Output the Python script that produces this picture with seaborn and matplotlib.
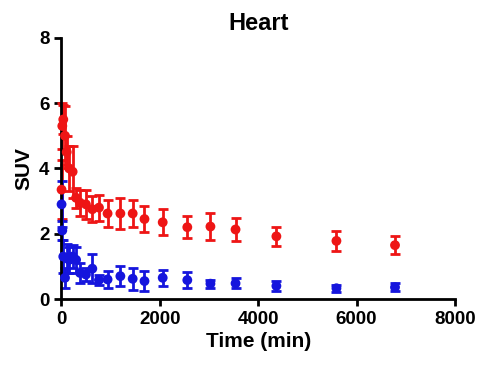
import matplotlib
matplotlib.use("Agg")
import matplotlib.pyplot as plt
import seaborn as sns
import pandas as pd

# time points (min)
time = [5, 20, 40, 75, 110, 160, 230, 300, 380, 500, 630, 765, 940,
        1200, 1450, 1690, 2060, 2560, 3030, 3540, 4370, 5590, 6780]

red_mean = [3.35, 5.3, 5.5, 5.0, 4.5, 4.0, 3.9, 3.1, 2.95, 2.9, 2.75, 2.8, 2.62,
            2.62, 2.62, 2.45, 2.35, 2.2, 2.22, 2.13, 1.92, 1.78, 1.65]
red_err = [0.9, 0.7, 0.45, 0.9, 0.5, 0.7, 0.8, 0.3, 0.4, 0.45, 0.4, 0.4, 0.4,
           0.48, 0.42, 0.4, 0.4, 0.33, 0.42, 0.35, 0.3, 0.3, 0.27]

blue_mean = [2.9, 2.1, 1.3, 0.65, 1.25, 1.2, 1.3, 1.2, 0.8, 0.75, 0.93, 0.58, 0.6,
             0.7, 0.62, 0.55, 0.65, 0.58, 0.47, 0.48, 0.4, 0.33, 0.36]
blue_err = [0.7, 0.3, 0.5, 0.3, 0.45, 0.4, 0.35, 0.4, 0.3, 0.2, 0.45, 0.15, 0.25,
            0.3, 0.33, 0.3, 0.25, 0.25, 0.12, 0.15, 0.15, 0.1, 0.12]

RED = '#ee1515'
BLUE = '#1515dd'

sns.set_style('ticks')
plt.rcParams['font.family'] = ['Liberation Sans', 'DejaVu Sans']
plt.rcParams['font.weight'] = 'bold'
plt.rcParams['text.color'] = 'black'
plt.rcParams['axes.labelcolor'] = 'black'

df = pd.DataFrame({'time': time * 2,
                   'suv': red_mean + blue_mean,
                   'err': red_err + blue_err,
                   'group': ['red'] * len(time) + ['blue'] * len(time)})

fig = plt.figure(figsize=(4.79, 3.71), dpi=100)
ax = fig.add_axes([0.128, 0.194, 0.822, 0.704])

for grp, col in [('red', RED), ('blue', BLUE)]:
    sub = df[df.group == grp]
    ax.errorbar(sub.time, sub.suv, yerr=sub.err, fmt='none', ecolor=col,
                elinewidth=2, capsize=3.5, capthick=2, clip_on=False)
sns.scatterplot(data=df, x='time', y='suv', hue='group',
                palette={'red': RED, 'blue': BLUE}, s=50, edgecolor='none',
                legend=False, ax=ax, clip_on=False, zorder=3)

ax.set_xlim(0, 8000)
ax.set_ylim(0, 8)
ax.set_xticks([0, 2000, 4000, 6000, 8000])
ax.set_yticks([0, 2, 4, 6, 8])
for s in ['top', 'right']:
    ax.spines[s].set_visible(False)
for s in ['left', 'bottom']:
    ax.spines[s].set_linewidth(2)
    ax.spines[s].set_color('black')
ax.tick_params(width=2, length=5, labelsize=13.5, colors='black')
for lab in ax.get_xticklabels() + ax.get_yticklabels():
    lab.set_fontweight('bold')
ax.set_xlabel('Time (min)', fontsize=15, fontweight='bold', labelpad=3)
ax.set_ylabel('SUV', fontsize=15, fontweight='bold', labelpad=4)
ax.set_title('Heart', fontsize=17, fontweight='bold', pad=6)

plt.savefig('out.png', dpi=100)
